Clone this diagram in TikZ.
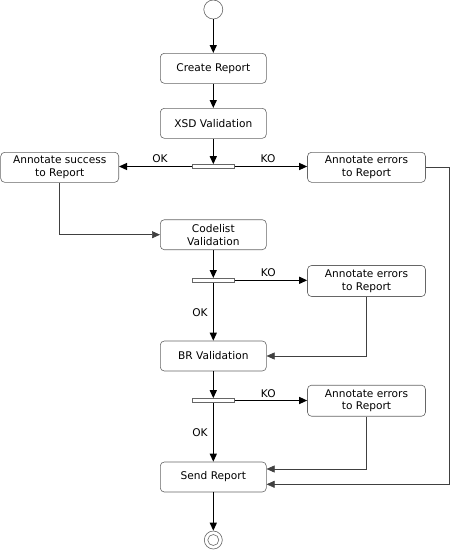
\documentclass[tikz,border=0pt]{standalone}
\usepackage{fontspec}
\setmainfont{DejaVu Sans}
\usetikzlibrary{arrows.meta}
\tikzset{
  act/.style={draw=black!60, line width=0.6pt, rounded corners=4pt, fill=white,
    minimum width=106pt, minimum height=30pt, align=center, inner sep=1pt,
    font=\fontsize{10.6}{12.7}\selectfont},
  bar/.style={draw=black!60, line width=0.6pt, fill=white, minimum width=42pt,
    minimum height=4pt, inner sep=0pt},
  lbl/.style={font=\fontsize{10.6}{12.7}\selectfont, inner sep=1pt},
  flow/.style={line width=1.2pt, -{Triangle[length=8pt,width=7pt]}},
  back/.style={draw=black!75, line width=0.6pt, -{Triangle[length=8pt,width=7pt]}}
}
\begin{document}
\begin{tikzpicture}[x=1pt,y=-1pt]
			%%%%% START %%%%%
			\useasboundingbox (0,0) rectangle (467,550);
			
			\node[draw=black!60, line width=0.6pt, circle, minimum size=19pt, inner sep=0pt] (start) at (213.3,9.5) {};
			
			\node[act] (create) at (213.3,68.3) {Create Report};
			\node[act] (xsd) at (213.3,123.3) {XSD Validation};
			\node[bar] (fork1) at (213.3,166.5) {};
			\node[act, minimum width=118pt] (success) at (59.7,167.3) {Annotate success\\to Report};
			\node[act, minimum width=118pt] (err1) at (366.5,167.3) {Annotate errors\\to Report};
			
			\node[act] (code) at (213.3,234.7) {Codelist\\Validation};
			\node[bar] (fork2) at (213.3,280.3) {};
			\node[act, minimum width=118pt, minimum height=31pt] (err2) at (366.5,281) {Annotate errors\\to Report};
			
			\node[act] (br) at (213.3,356) {BR Validation};
			\node[bar] (fork3) at (213.3,400.5) {};
			\node[act, minimum width=118pt, minimum height=31pt] (err3) at (366.5,400.7) {Annotate errors\\to Report};
			
			\node[act] (send) at (213.3,477) {Send Report};
			
			\node[draw=black!60, line width=0.6pt, circle, minimum size=18pt, inner sep=0pt] (stop) at (213.3,540) {};
			\node[draw=black!60, line width=0.6pt, circle, minimum size=11pt, inner sep=0pt] (stopin) at (213.3,540) {};
			
			\draw[flow] (start) -- (create);
			\draw[flow] (create) -- (xsd);
			\draw[flow] (xsd) -- (fork1);
			\draw[flow] (fork1.west) -- (success.east |- fork1.west);
			\draw[flow] (fork1.east) -- (err1.west |- fork1.east);
			\node[lbl] (ok1) at (160,159) {OK};
			\node[lbl] (ko1) at (268,158.5) {KO};
			
			\draw[back] (success.south) |- (code.west);
			
			\draw[flow] (code) -- (fork2);
			\draw[flow] (fork2.east) -- (err2.west |- fork2.east);
			\draw[flow] (fork2) -- (br);
			\node[lbl] (ko2) at (268.3,272.5) {KO};
			\node[lbl] (ok2) at (200,312.7) {OK};
			
			\draw[back] (err2.south) |- (br.east);
			
			\draw[flow] (br) -- (fork3);
			\draw[flow] (fork3.east) -- (err3.west |- fork3.east);
			\draw[flow] (fork3) -- (send);
			\node[lbl] (ko3) at (268.3,393.3) {KO};
			\node[lbl] (ok3) at (200,432.7) {OK};
			
			\coordinate (turn3) at (366.5,469);
			\draw[back] (err3.south) -- (turn3) -- (turn3 -| send.east);
			
			\coordinate (turn1) at (449.3,484.3);
			\draw[back] (err1.east) -| (turn1) -- (turn1 -| send.east);
			
			\draw[flow] (send) -- (stop);
			
			%%%%% END %%%%%
		\end{tikzpicture}
\end{document}
